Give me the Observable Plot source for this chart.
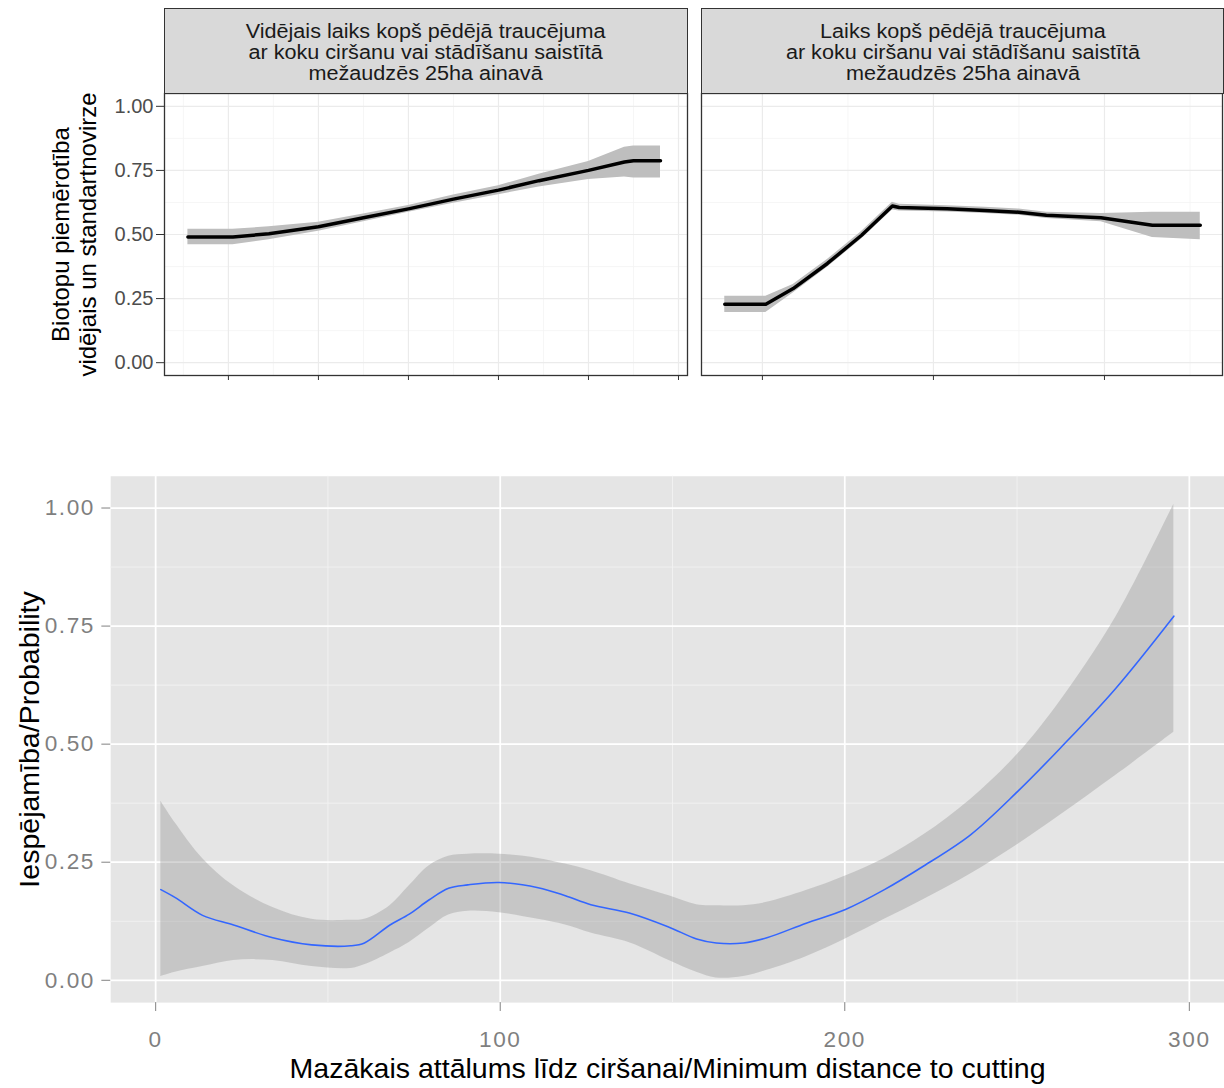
<!DOCTYPE html>
<html><head><meta charset="utf-8">
<script src="https://cdn.jsdelivr.net/npm/d3@7"></script>
<script src="https://cdn.jsdelivr.net/npm/@observablehq/plot@0.6"></script>
<style>
html,body{margin:0;padding:0;background:#fff;overflow:hidden;}
#root{position:relative;width:1224px;height:1088px;overflow:hidden;font-family:"Liberation Sans",Arial,sans-serif;}
.panel{position:absolute;top:0;}
.strip{position:absolute;top:8px;height:86px;background:#D9D9D9;border:1.3px solid #333;box-sizing:border-box;display:flex;align-items:center;justify-content:center;text-align:center;color:#1A1A1A;}
.strip span{display:block;font-size:20px;line-height:21px;white-space:pre;transform:scaleX(1.08);padding-top:3px;}
.bottomplot g[aria-label="y-axis tick label"] text,.bottomplot g[aria-label="x-axis tick label"] text{letter-spacing:1.6px;}
</style></head><body><div id="root"></div>
<script>
// ---- Facet strip titles
const stripTitles = [
  "Vidējais laiks kopš pēdējā traucējuma\nar koku ciršanu vai stādīšanu saistītā\nmežaudzēs 25ha ainavā",
  "Laiks kopš pēdējā traucējuma\nar koku ciršanu vai stādīšanu saistītā\nmežaudzēs 25ha ainavā"
];
const topYTitle = "Biotopu piemērotība\nvidējais un standartnovirze";
const bottomXTitle = "Mazākais attālums līdz ciršanai/Minimum distance to cutting";
const bottomYTitle = "Iespējamība/Probability";

// ---- Top-left panel (mean ± sd)
const leftX    = [11, 21, 29, 40, 50, 60, 70, 80, 89, 100, 108, 110, 116];
const leftMean = [0.49, 0.49, 0.503, 0.53, 0.565, 0.60, 0.638, 0.673, 0.71, 0.75, 0.783, 0.788, 0.788];
const leftLo   = [0.46, 0.46, 0.48, 0.513, 0.55, 0.587, 0.622, 0.655, 0.685, 0.715, 0.724, 0.72, 0.72];
const leftHi   = [0.52, 0.52, 0.53, 0.548, 0.58, 0.613, 0.654, 0.69, 0.735, 0.785, 0.84, 0.845, 0.845];
const leftTicks = [20, 40, 60, 80, 100, 120];
const leftMinor = [10, 30, 50, 70, 90, 110];

// ---- Top-right panel
const rightX    = [39, 51, 59, 69, 79, 88, 90, 104, 115, 125, 133, 149, 164, 178];
const rightMean = [0.228, 0.228, 0.289, 0.387, 0.497, 0.611, 0.605, 0.60, 0.594, 0.587, 0.575, 0.565, 0.536, 0.536];
const rightLo   = [0.196, 0.196, 0.272, 0.372, 0.482, 0.596, 0.592, 0.588, 0.582, 0.575, 0.562, 0.55, 0.488, 0.48];
const rightHi   = [0.259, 0.259, 0.305, 0.402, 0.512, 0.626, 0.618, 0.612, 0.606, 0.599, 0.587, 0.582, 0.587, 0.587];
const rightTicks = [50, 100, 150];
const rightMinor = [75, 125, 175];

const topYTicks = [0, 0.25, 0.5, 0.75, 1];
const topYMinor = [0.125, 0.375, 0.625, 0.875];

// ---- Bottom panel (smooth with CI)
const distX   = [1.5, 5.7, 13.6, 22.6, 34, 45.3, 56.6, 60.6, 68, 73.6, 79.3, 85, 90.6, 99.7, 111, 118.9, 126.3, 137.7, 149, 157, 162.7, 170.6, 177.4, 188.8, 200.2, 211.5, 222.9, 236.5, 250.2, 262.6, 278.5, 295.5];
const probFit = [0.192, 0.175, 0.1375, 0.117, 0.09, 0.075, 0.073, 0.079, 0.117, 0.14, 0.17, 0.195, 0.202, 0.207, 0.196, 0.179, 0.16, 0.142, 0.1125, 0.0875, 0.079, 0.079, 0.09, 0.121, 0.15, 0.192, 0.242, 0.308, 0.4, 0.492, 0.617, 0.771];
const probLo  = [0.008, 0.017, 0.029, 0.042, 0.042, 0.029, 0.025, 0.033, 0.058, 0.08, 0.11, 0.138, 0.146, 0.143, 0.129, 0.117, 0.1, 0.079, 0.042, 0.017, 0.005, 0.008, 0.021, 0.05, 0.0875, 0.129, 0.171, 0.225, 0.2875, 0.35, 0.433, 0.525];
const probHi  = [0.379, 0.333, 0.258, 0.2, 0.154, 0.129, 0.127, 0.129, 0.158, 0.2, 0.242, 0.2625, 0.267, 0.267, 0.258, 0.246, 0.232, 0.204, 0.179, 0.16, 0.158, 0.158, 0.165, 0.19, 0.221, 0.258, 0.308, 0.383, 0.479, 0.592, 0.767, 1.008];
const bottomXTicks = [0, 100, 200, 300];
const bottomXMinor = [50, 150, 250];
const bottomYTicks = [0, 0.25, 0.5, 0.75, 1];
const bottomYMinor = [0.125, 0.375, 0.625, 0.875];

const FONT = '"Liberation Sans", Arial, sans-serif';
const root = document.getElementById("root");

function table(xs, a, b, c) { return xs.map((x, i) => ({x, m: a[i], lo: b[i], hi: c[i]})); }

function topPanel(rows, xdomain, ticks, minor, opts) {
  const marks = [
    Plot.ruleX(minor, {stroke: "#F4F4F4", strokeWidth: 0.8}),
    Plot.ruleY(topYMinor, {stroke: "#F4F4F4", strokeWidth: 0.8}),
    Plot.ruleX(ticks, {stroke: "#EBEBEB", strokeWidth: 1.2}),
    Plot.ruleY(topYTicks, {stroke: "#EBEBEB", strokeWidth: 1.2}),
    Plot.areaY(rows, {x: "x", y1: "lo", y2: "hi", fill: "#BEBEBE"}),
    Plot.line(rows, {x: "x", y: "m", stroke: "#000", strokeWidth: 3.5}),
    Plot.frame({stroke: "#333", strokeWidth: 1.3}),
    Plot.axisX(ticks, {tickSize: 5, tickFormat: () => "", stroke: "#333", label: null})
  ];
  if (opts.yaxis) {
    marks.push(Plot.axisY(topYTicks, {tickSize: 8, tickPadding: 3, tickFormat: d => d.toFixed(2), fontSize: 20, color: "#4D4D4D", stroke: "#333", label: null}));
    marks.push(Plot.text([topYTitle], {frameAnchor: "left", textAnchor: "middle", lineAnchor: "middle", rotate: -90, dx: -91, fontSize: 24, lineHeight: 1.12, fill: "#000"}));
  }
  return Plot.plot({
    width: opts.width, height: 400,
    marginTop: 93, marginBottom: 25, marginLeft: opts.ml, marginRight: opts.mr,
    style: {fontFamily: FONT, background: "transparent", overflow: "visible"},
    x: {domain: xdomain, axis: null},
    y: {domain: [-0.05, 1.05], axis: null},
    marks
  });
}

const p1 = topPanel(table(leftX, leftMean, leftLo, leftHi), [5.8, 122], leftTicks, leftMinor, {width: 700, ml: 164, mr: 13, yaxis: true});
p1.classList.add("panel"); p1.style.left = "0px";
root.appendChild(p1);
const p2 = topPanel(table(rightX, rightMean, rightLo, rightHi), [32.2, 184.5], rightTicks, rightMinor, {width: 534, ml: 11, mr: 2, yaxis: false});
p2.classList.add("panel"); p2.style.left = "690px";
root.appendChild(p2);

[[164, 524], [701, 523]].forEach(([l, w], i) => {
  const d = document.createElement("div");
  d.className = "strip";
  d.style.left = l + "px"; d.style.width = w + "px";
  const s = document.createElement("span");
  s.textContent = stripTitles[i];
  d.appendChild(s);
  root.appendChild(d);
});

const bottomRows = table(distX, probFit, probLo, probHi);
const p3 = Plot.plot({
  width: 1244, height: 628,
  marginTop: 16, marginBottom: 77, marginLeft: 112, marginRight: 0,
  style: {fontFamily: FONT, background: "transparent", overflow: "visible"},
  x: {domain: [-13.05, 310.2], axis: null},
  y: {domain: [-0.0473, 1.0673], axis: null},
  marks: [
    Plot.frame({fill: "#E5E5E5", stroke: "none"}),
    Plot.ruleX(bottomXMinor, {stroke: "#F2F2F2", strokeWidth: 0.9}),
    Plot.ruleY(bottomYMinor, {stroke: "#F2F2F2", strokeWidth: 0.9}),
    Plot.ruleX(bottomXTicks, {stroke: "#FFFFFF", strokeWidth: 1.8}),
    Plot.ruleY(bottomYTicks, {stroke: "#FFFFFF", strokeWidth: 1.8}),
    Plot.areaY(bottomRows, {x: "x", y1: "lo", y2: "hi", fill: "#999999", fillOpacity: 0.4, curve: "catmull-rom"}),
    Plot.line(bottomRows, {x: "x", y: "m", stroke: "#3366FF", strokeWidth: 1.6, curve: "catmull-rom"}),
    Plot.axisX(bottomXTicks, {tickSize: 9, tickPadding: 20, fontSize: 23, color: "#7F7F7F", label: null}),
    Plot.axisY(bottomYTicks, {tickSize: 9, tickPadding: 7, fontSize: 23, tickFormat: d => d.toFixed(2), color: "#7F7F7F", label: null}),
    Plot.text([bottomXTitle], {frameAnchor: "bottom", textAnchor: "middle", lineAnchor: "middle", dy: 67, fontSize: 29, fill: "#000"}),
    Plot.text([bottomYTitle], {frameAnchor: "left", textAnchor: "middle", lineAnchor: "middle", rotate: -90, dx: -82, fontSize: 29, fill: "#000"})
  ]
});
p3.classList.add("bottomplot");
p3.style.position = "absolute"; p3.style.left = "0px"; p3.style.top = "460px";
root.appendChild(p3);
</script></body></html>
